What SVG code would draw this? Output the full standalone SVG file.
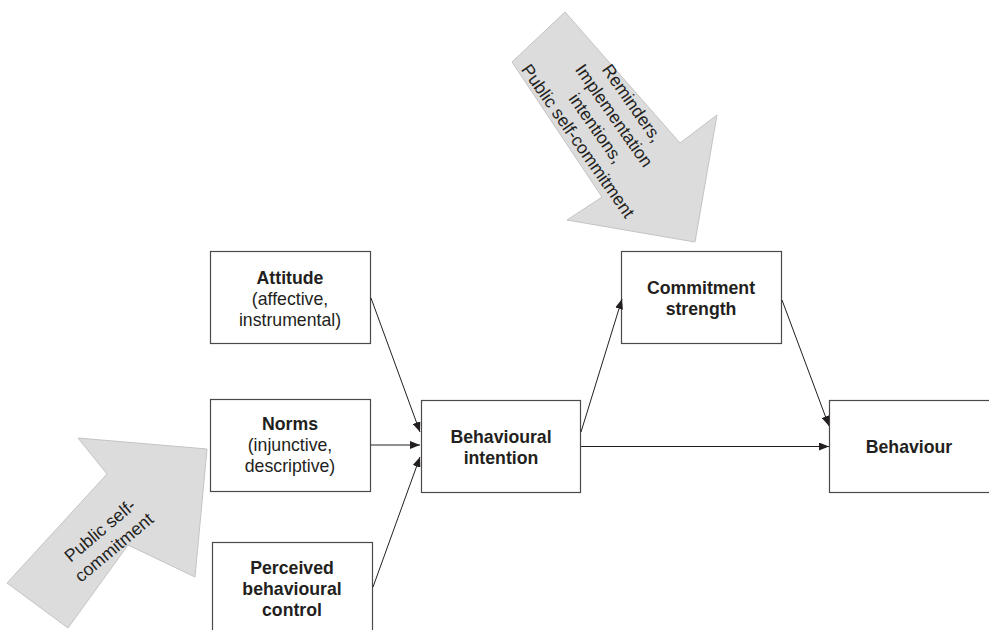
<svg xmlns="http://www.w3.org/2000/svg" width="989" height="630" viewBox="0 0 989 630">
<style>
.box{fill:#fff;stroke:#4a4a4a;stroke-width:1.2}
.big{fill:#dcdcdd;stroke:#c4c4c4;stroke-width:1}
text{font-family:"Liberation Sans",Arial,sans-serif;font-size:17.7px;fill:#231f20;text-anchor:middle}
.b{font-weight:bold}
.c{stroke:#231f20;stroke-width:1;fill:none;marker-end:url(#ah)}
</style>
<defs>
<marker id="ah" viewBox="0 0 10 8" refX="10" refY="4" markerWidth="10" markerHeight="8" markerUnits="userSpaceOnUse" orient="auto">
<path d="M0,0 L10,4 L0,8 Z" fill="#231f20"/>
</marker>
</defs>
<g id="arrow-top">
<polygon class="big" points="512,62 565,12 680,143 717,115 695,242 567,220 602,197"/>
<g transform="translate(605,122) rotate(55)">
<text y="-27">Reminders,</text>
<text y="-5">Implementation</text>
<text y="17">intentions,</text>
<text y="39">Public self-commitment</text>
</g>
</g>
<g id="arrow-left">
<polygon class="big" points="7,583 107,474 78,438 207,449 195,577 128,545 68,628"/>
<g transform="translate(107,539) rotate(-40)">
<text y="-5">Public self-</text>
<text y="17">commitment</text>
</g>
</g>
<g id="attitude">
<rect class="box" x="210.5" y="251.5" width="160" height="92"/>
<text class="b" x="290" y="284">Attitude</text>
<text x="290" y="305">(affective,</text>
<text x="290" y="326">instrumental)</text>
</g>
<g id="norms">
<rect class="box" x="210.5" y="399.5" width="160" height="92"/>
<text class="b" x="290" y="430">Norms</text>
<text x="290" y="451">(injunctive,</text>
<text x="290" y="472">descriptive)</text>
</g>
<g id="pbc">
<rect class="box" x="212.5" y="542.5" width="160" height="100"/>
<text class="b" x="292" y="574">Perceived</text>
<text class="b" x="292" y="595">behavioural</text>
<text class="b" x="292" y="616">control</text>
</g>
<g id="intention">
<rect class="box" x="421.5" y="400.5" width="159" height="92"/>
<text class="b" x="501" y="443">Behavioural</text>
<text class="b" x="501" y="464">intention</text>
</g>
<g id="commitment">
<rect class="box" x="621.5" y="251.5" width="160" height="92"/>
<text class="b" x="701" y="294">Commitment</text>
<text class="b" x="701" y="315">strength</text>
</g>
<g id="behaviour">
<rect class="box" x="829.5" y="400.5" width="170" height="92"/>
<text class="b" x="909" y="453">Behaviour</text>
</g>
<g id="connectors">
<line class="c" x1="371" y1="298" x2="420" y2="432"/>
<line class="c" x1="371" y1="445" x2="420" y2="445"/>
<line class="c" x1="373" y1="587" x2="420" y2="457"/>
<line class="c" x1="581" y1="432" x2="622" y2="299"/>
<line class="c" x1="782" y1="300" x2="829" y2="426"/>
<line class="c" x1="581" y1="446.5" x2="829" y2="446.5"/>
</g>
</svg>
